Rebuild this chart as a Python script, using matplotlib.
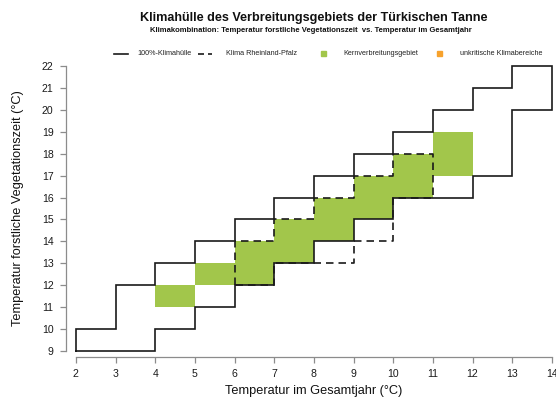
import matplotlib
matplotlib.use('Agg')
import matplotlib.pyplot as plt
from matplotlib.lines import Line2D
from matplotlib.patches import Rectangle
import numpy as np

plt.rcParams['font.family'] = ['Liberation Sans', 'DejaVu Sans']

# --- data: one column per 1 °C step of the annual temperature ---
# 100% climate envelope (lower / upper bound of growing-season temperature)
env_x = [2, 3, 4, 5, 6, 7, 8, 9, 10, 11, 12, 13]
env_low = [9, 9, 10, 11, 12, 13, 14, 15, 16, 16, 17, 20]
env_high = [10, 12, 13, 14, 15, 16, 17, 18, 19, 20, 21, 22]

# climate of Rheinland-Pfalz
rlp_x = [6, 7, 8, 9, 10]
rlp_low = [12, 13, 13, 14, 16]
rlp_high = [14, 15, 16, 17, 18]

# core distribution area
core_x = [4, 5, 6, 7, 8, 9, 10, 11]
core_low = [11, 12, 12, 13, 14, 15, 16, 17]
core_high = [12, 13, 14, 15, 16, 17, 18, 19]

x_ticks = list(range(2, 15))
y_ticks = list(range(9, 23))

title = "Klimahülle des Verbreitungsgebiets der Türkischen Tanne"
subtitle = "Klimakombination: Temperatur forstliche Vegetationszeit  vs. Temperatur im Gesamtjahr"
legend_labels = ["100%-Klimahülle", "Klima Rheinland-Pfalz",
                 "Kernverbreitungsgebiet", "unkritische Klimabereiche"]

green = "#a2c64b"
orange = "#f7a22c"
W, H = 556, 400


def outline(xs, lows, highs):
    # closed step outline around a run of 1-wide columns
    px, py = [xs[0]], [lows[0]]
    for x, hi in zip(xs, highs):
        px += [x, x + 1]
        py += [hi, hi]
    for x, lo in zip(xs[::-1], lows[::-1]):
        px += [x + 1, x]
        py += [lo, lo]
    px.append(xs[0])
    py.append(lows[0])
    return px, py


def fx(p):
    return p / W


def fy(p):
    return 1 - p / H


fig = plt.figure(figsize=(W / 100, H / 100), dpi=100)
ax = fig.add_axes([fx(66), fy(357), fx(556 - 66), (357 - 62) / H])
ax.set_xlim(1.75, 1.75 + (556 - 66) / 39.66)
ax.set_ylim(9 - 6 / 21.92, 9 - 6 / 21.92 + 295 / 21.92)

ax.bar(core_x, np.subtract(core_high, core_low), bottom=core_low, width=1,
       align='edge', color=green, linewidth=0, zorder=1)

ex, ey = outline(env_x, env_low, env_high)
ax.plot(ex, ey, color='#1a1a1a', lw=1.2, zorder=3, solid_joinstyle='miter')
rx, ry = outline(rlp_x, rlp_low, rlp_high)
ax.plot(rx, ry, color='#1a1a1a', lw=1.2, ls=(0, (4.5, 3)), zorder=4)

for side in ['top', 'right']:
    ax.spines[side].set_visible(False)
for side in ['left', 'bottom']:
    ax.spines[side].set_color('#8c8c8c')
    ax.spines[side].set_linewidth(0.9)
ax.spines['left'].set_bounds(9, 22)
ax.spines['bottom'].set_bounds(2, 14)
ax.set_xticks(x_ticks)
ax.set_yticks(y_ticks)
ax.tick_params(axis='both', colors='#8c8c8c', labelcolor='#1a1a1a',
               length=4.5, width=0.9, labelsize=7.6)
ax.tick_params(axis='x', pad=4)
ax.tick_params(axis='y', pad=4.5)

fig.text(fx(314), fy(18), title, ha='center', va='center',
         fontsize=9.1, fontweight='bold', color='#111111')
fig.text(fx(311), fy(30.5), subtitle, ha='center', va='center',
         fontsize=5.5, fontweight='bold', color='#111111')
fig.text(fx(314), fy(391), "Temperatur im Gesamtjahr (°C)", ha='center',
         va='center', fontsize=9.2, color='#111111')
fig.text(fx(18), fy(208), "Temperatur forstliche Vegetationszeit (°C)",
         ha='center', va='center', rotation=90, fontsize=9.2, color='#111111')

# legend row
ly = fy(53.5)
fig.add_artist(Line2D([fx(114), fx(128)], [ly, ly], color='#1a1a1a', lw=1.2))
fig.add_artist(Line2D([fx(198), fx(212)], [ly, ly], color='#1a1a1a', lw=1.2,
                      ls=(0, (3.6, 2.4))))
fig.add_artist(Rectangle((fx(321), ly - 2.5 / H), 5 / W, 5 / H, color=green,
                         transform=fig.transFigure))
fig.add_artist(Rectangle((fx(437), ly - 2.5 / H), 5 / W, 5 / H, color=orange,
                         transform=fig.transFigure))
for px_, lab in zip([137, 226, 343, 460], legend_labels):
    fig.text(fx(px_), ly, lab, ha='left', va='center', fontsize=5.25,
             color='#222222')

fig.savefig("out.png", dpi=100)
